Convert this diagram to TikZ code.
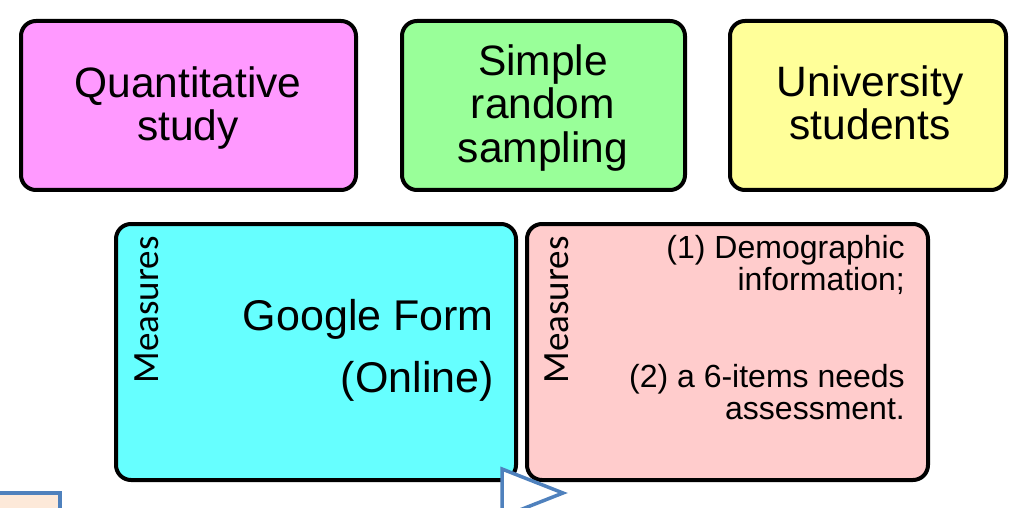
\documentclass[tikz,border=0pt]{standalone}
\usepackage{fontspec}
\setmainfont{Liberation Sans}
\newfontfamily\calfont{Carlito}
\begin{document}
\begin{tikzpicture}[x=1pt,y=-1pt,
  box/.style={draw=black,line width=4pt,rounded corners=15pt},
  bigtxt/.style={font=\fontsize{42.5}{43.5}\selectfont,align=center,inner sep=0pt},
  meas/.style={font=\calfont\fontsize{37}{40}\selectfont,rotate=90,inner sep=0pt},
  smalltxt/.style={font=\fontsize{32}{31.5}\selectfont,align=right,inner sep=0pt},
  blueline/.style={draw={rgb,255:red,79;green,129;blue,189},line width=3.5pt}]
\useasboundingbox (0,0) rectangle (1010,508);
% top row
\draw[box,fill={rgb,255:red,255;green,153;blue,255}] (21,21) rectangle (356,190);
\draw[box,fill={rgb,255:red,153;green,255;blue,153}] (402,21) rectangle (685,190);
\draw[box,fill={rgb,255:red,255;green,255;blue,153}] (730,21) rectangle (1006,190);
\node[bigtxt] (quant) at (188,108) {Quantitative\\study};
\node[bigtxt] (srs) at (543,108) {Simple\\random\\sampling};
\node[bigtxt] (univ) at (870,103) {University\\students};
% second row
\draw[box,fill={rgb,255:red,102;green,255;blue,255}] (116,224) rectangle (516,480);
\draw[box,fill={rgb,255:red,255;green,204;blue,204}] (527,224) rectangle (928,480);
\node[meas] (m1) at (147,310) {Measures};
\node[meas] (m2) at (557,310) {Measures};
\node[font=\fontsize{43}{62}\selectfont,align=right,inner sep=0pt,anchor=east] (gform) at (494,350) {Google Form\\(Online)};
\node[smalltxt,anchor=east] (demo) at (905,265) {(1) Demographic\\information;};
\node[smalltxt,anchor=east] (needs) at (905,392) {(2) a 6-items needs\\assessment.};
% bottom partial shapes
\draw[blueline,fill={rgb,255:red,253;green,233;blue,217}] (-5,493) rectangle (60,530);
\draw[blueline,fill=white,line join=miter] (502,469) -- (563,493) -- (502,517) -- cycle;
\end{tikzpicture}
\end{document}
